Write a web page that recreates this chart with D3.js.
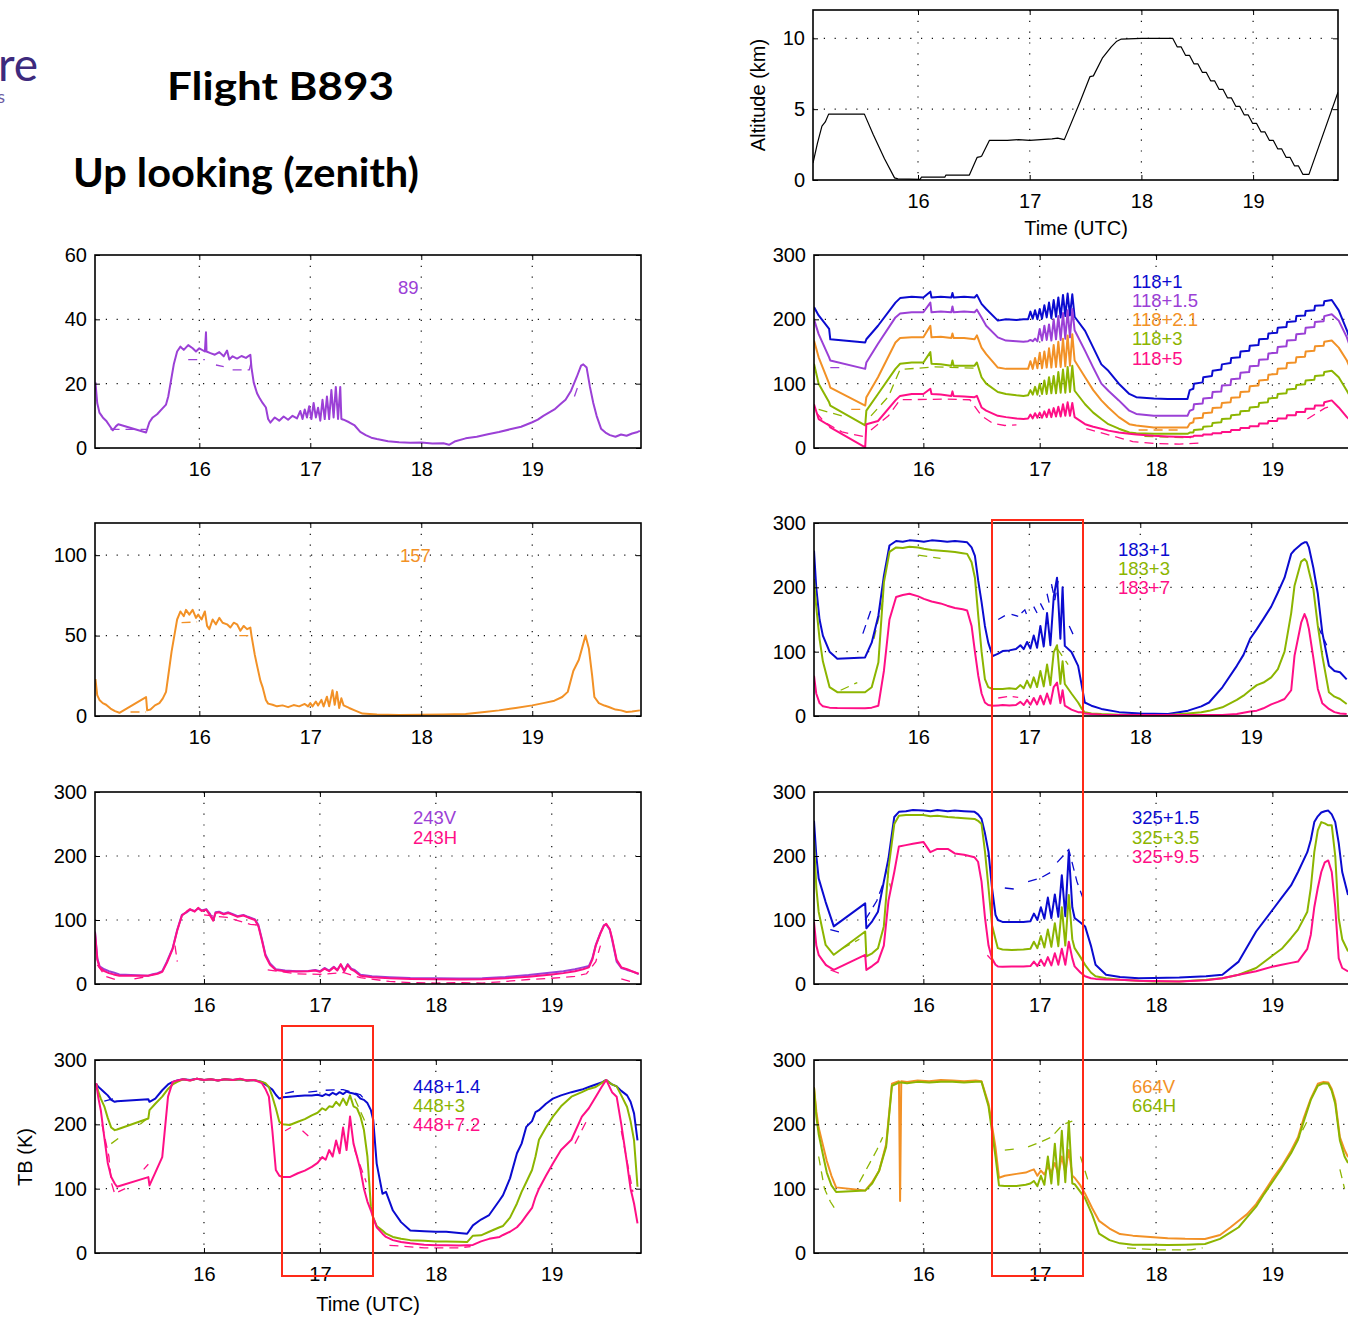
<!DOCTYPE html>
<html><head><meta charset="utf-8">
<script src="https://cdn.jsdelivr.net/npm/d3@7"></script>
<style>body{margin:0;background:#fff}svg{display:block}</style>
</head><body>
<svg id="chart" width="1348" height="1319"></svg>
<script>
// ---------------- DATA ----------------
const xTickVals = [16, 17, 18, 19];

// Altitude (km)
const altT = [15.06,15.1,15.14,15.17,15.2,15.35,15.52,15.6,15.7,15.79,15.82,16.02,16.03,16.24,16.25,16.46,16.53,16.56,16.57,16.64,16.8,16.9,17.0,17.1,17.2,17.25,17.31,17.45,17.54,17.57,17.65,17.73,17.78,17.82,18.0,18.28,
  18.32,18.355,18.395,18.43,18.47,18.505,18.545,18.58,18.62,18.655,18.695,18.73,18.77,18.805,18.845,18.88,18.92,18.955,18.995,19.03,19.07,19.105,19.145,19.18,19.22,19.255,19.295,19.33,19.37,19.405,19.445,19.5,19.76];
const altV = [1.2,2.6,3.8,4.1,4.65,4.65,4.65,3.2,1.5,0.15,0.08,0.05,0.2,0.2,0.35,0.35,1.6,1.65,1.7,2.8,2.8,2.85,2.8,2.85,2.9,2.95,2.85,5.5,7.3,7.35,8.6,9.4,9.8,9.95,10.0,10.0,
  9.4,9.4,8.8,8.8,8.2,8.2,7.6,7.6,7.0,7.0,6.4,6.4,5.8,5.8,5.2,5.2,4.6,4.6,4.0,4.0,3.4,3.4,2.8,2.8,2.2,2.2,1.6,1.6,1.0,1.0,0.4,0.4,6.2];

// 89 GHz
const t89 = [15.064,15.08,15.1,15.13,15.16,15.19,15.22,15.25,15.27,15.52,
 15.55,15.58,15.62,15.66,15.7,15.72,15.75,15.77,15.8,15.83,
 15.86,15.9,15.94,15.97,16.0,16.05,16.06,16.065,16.1,16.14,
 16.18,16.22,16.25,16.27,16.3,16.34,16.38,16.42,16.46,16.47,
 16.49,16.52,16.54,16.57,16.6,16.62,16.64,16.68,16.72,16.76,
 16.8,16.84,16.88,16.91,16.93,16.95,16.97,16.99,17.01,17.03,
 17.05,17.07,17.09,17.11,17.13,17.15,17.17,17.19,17.21,17.23,
 17.25,17.27,17.28,17.3,17.35,17.4,17.45,17.5,17.55,17.6,
 17.7,17.8,17.9,18.0,18.1,18.2,18.25,18.3,18.4,18.5,
 18.6,18.7,18.8,18.9,19.0,19.05,19.1,19.15,19.2,19.25,
 19.3,19.35,19.4,19.44,19.46,19.49,19.52,19.55,19.58,19.62,
 19.66,19.7,19.75,19.8,19.85,19.9,19.95,19.97];
const v89 = [20.4,14,11,9.5,8.5,7,5.5,6.8,7.4,4.8,
 8,9.5,10.5,12,13.5,16,22,26,30,31.5,
 30.5,32,31,30,31,30,36,30,29.5,29,
 29.8,28.5,30.3,27.5,28.5,27.8,28.6,28,29,25,
 20.4,17,15.7,14,12.6,9,7.9,9.5,8.5,9.8,
 8.8,10,9.2,11.5,9,12,9.5,13,9,14,
 9.5,12.5,8.5,15,9,16,9,18,9.5,19,
 9,19,9,8.8,8,7,5,4,3.2,2.8,
 2.1,1.8,1.6,1.7,1.4,1.5,1.0,2.0,3.0,3.5,
 4.3,5.0,5.8,6.6,8.0,8.8,10,11,12,13.5,
 15,17.8,22,25.6,26,25,19,14,10,6,
 4.8,4,3.5,4.2,3.8,4.5,5,5.3];
const d89 = [[15.2,5.8],[15.52,5.8],null,[15.9,27.5],[16.05,27.5],null,[16.15,25.8],[16.22,25.3],null,[16.3,24.3],[16.45,24.3],[16.47,27],null,[19.38,16],[19.42,20]];

// 157 GHz
const t157 = [15.064,15.08,15.1,15.13,15.16,15.2,15.24,15.28,15.52,15.53,
 15.56,15.6,15.64,15.67,15.7,15.72,15.75,15.78,15.8,15.83,
 15.86,15.88,15.91,15.94,15.97,15.99,16.02,16.05,16.07,16.09,
 16.12,16.15,16.18,16.21,16.25,16.28,16.31,16.34,16.37,16.4,
 16.43,16.46,16.47,16.5,16.52,16.55,16.57,16.6,16.62,16.66,
 16.7,16.75,16.8,16.85,16.9,16.95,16.98,17.0,17.02,17.05,
 17.07,17.1,17.12,17.15,17.17,17.2,17.22,17.24,17.26,17.28,
 17.3,17.35,17.4,17.47,17.6,17.8,18.0,18.2,18.4,18.57,
 18.7,18.85,19.0,19.1,19.2,19.27,19.32,19.37,19.42,19.46,
 19.48,19.51,19.54,19.56,19.6,19.65,19.69,19.75,19.8,19.85,
 19.9,19.97];
const v157 = [23,13,10,8,7,4.6,3,2,11.8,3.5,
 4,6.6,8,10.8,15,25,40,52,60,65,
 62,66,63,66,61,63,60,65,56,54,
 60,57,61,58,57,55,58,57,53,56,
 54,55,50,38,31.5,22,18,10,7.7,7,
 6,6.6,5.5,6.8,6,7.5,6,8,6,9,
 6.5,10,6,12,6,16,7,15,5,11,
 6.6,5,3.5,1.5,1.0,0.6,0.8,0.9,1.2,2.5,
 3.5,5,6.6,8,9.5,11.8,15,28,35,45,
 50,42,25,11.8,8,6.5,5.6,4,3.5,2.5,
 2.8,3.5];
const d157 = [[15.38,2.5],[15.52,2.5],null,[15.84,58],[15.98,58.5],null,[16.36,50],[16.46,50]];

// 243 GHz (V, H)
const t243 = [15.06,15.08,15.1,15.14,15.18,15.22,15.27,15.52,15.55,15.6,
 15.64,15.68,15.73,15.77,15.81,15.85,15.88,15.92,15.95,15.98,
 16.02,16.05,16.08,16.1,16.13,16.17,16.21,16.25,16.29,16.34,
 16.38,16.44,16.47,16.5,16.53,16.57,16.62,16.7,16.8,16.9,
 16.96,17.0,17.04,17.08,17.12,17.15,17.18,17.21,17.24,17.27,
 17.3,17.35,17.45,17.6,17.78,18.0,18.2,18.4,18.6,18.8,
 19.0,19.1,19.2,19.27,19.32,19.35,19.38,19.42,19.45,19.47,
 19.5,19.52,19.56,19.6,19.65,19.69,19.75];
const v243V = [82,40,27.5,23,20,18,15,13,15,17,
 20,35,56,85,108,112,116,114,118,115,
 117,110,100,112,113,110,112,109,106,108,
 105,101,92,70,46,32,23,21,20,20.5,
 22,20,25,21,27,22,30,21,31,24,
 22,14.5,12,10.5,9.3,9,8.5,9,11,14,
 18,20,23,26,28,40,61,80,92,93,
 85,70,35,25,22,20,15.5];
const v243H = [80,38,26,20,17,15,13,13,14,16,
 19,33,55,84,107,113,117,113,119,114,
 116,108,99,111,112,109,111,108,105,107,
 104,100,90,68,44,30,22,20,19.5,20,
 21,19,24,20,26,21,31,20,30,23,
 20,13,10.5,9,8,7.5,7,7.5,9,11.5,
 15,17,20,23,26,38,60,79,91,94,
 86,72,38,26,23,20,16];
const d243H = [[15.08,30],[15.15,12],[15.25,6],null,[15.4,8],[15.52,12],null,[15.75,60],[15.77,35],null,[16.0,108],[16.2,104],[16.4,93],[16.47,92],null,[16.55,22],[16.8,16],[17.0,15],[17.2,18],[17.35,10],[17.6,4],[17.8,2],[18.0,1.5],[18.2,2],[18.4,1.5],[18.6,4],[18.8,7],[19.0,9],[19.2,12],[19.3,16],[19.38,35],[19.42,60],null,[19.6,8],[19.68,4]];

// 448 GHz
const t448 = [15.07,15.09,15.11,15.14,15.17,15.2,15.23,15.25,15.52,15.53,
 15.58,15.64,15.69,15.73,15.77,15.82,15.88,15.94,16.0,16.06,
 16.12,16.18,16.25,16.31,16.37,16.43,16.5,16.53,16.56,16.59,
 16.62,16.65,16.68,16.74,16.81,16.87,16.93,16.98,17.02,17.05,
 17.08,17.11,17.14,17.17,17.2,17.23,17.26,17.29,17.32,17.35,
 17.38,17.41,17.44,17.46,17.49,17.54,17.57,17.63,17.7,17.78,
 17.9,18.0,18.09,18.2,18.27,18.32,18.39,18.46,18.55,18.58,
 18.64,18.7,18.74,18.78,18.83,18.86,18.89,18.95,19.01,19.08,
 19.17,19.26,19.32,19.38,19.43,19.47,19.52,19.56,19.6,19.65,
 19.68,19.71,19.74];
const v448a = [263,258,255,250,245,238,235,236,239,235,
 240,253,262,266,268,270,269,271,269,270,
 268,270,269,270,268,269,266,262,258,254,
 246,240,242,243,244,245,245,246,244,247,
 245,249,246,250,247,251,249,248,246,240,
 238,233,222,207,139,92,95,66,48,35,
 34,33,33,31,30,43,52,59,82,90,
 116,155,170,196,205,219,222,232,240,245,
 250,254,258,262,265,269,262,259,252,245,
 235,217,175];
const v448b = [263,250,240,228,210,195,191,192,209,222,
 232,243,255,262,266,270,268,271,269,270,
 268,270,269,270,268,269,266,264,258,243,
 225,204,200,199,204,208,214,218,225,222,
 228,227,235,229,240,230,245,228,225,212,
 191,150,72,55,42,35,30,25,22,20,
 19,18,18,17.5,17,27,27.5,33,40,42,
 55,77,95,110,129,150,176,195,212,228,
 243,250,255,258,264,269,262,259,245,227,
 205,175,103];
const v448c = [264,240,222,180,140,118,108,103,118,105,
 125,149,243,266,268,270,268,271,269,270,
 268,270,269,271,268,269,264,255,243,190,
 129,120,118,118,124,128,134,140,149,145,
 160,150,175,155,195,160,212,170,150,129,
 100,80,66,55,40,30,25,20,17,15,
 13,12,12,11.5,12,12.5,18,22,25,28,
 33,40,48,58,70,87,100,120,139,160,
 176,212,225,243,258,269,250,243,200,139,
 100,77,46];
const d448a = [[15.14,236],[15.25,241],null,[16.7,248],[16.8,252],null,[16.9,250],[17.0,252],null,[17.05,253],[17.2,254],[17.35,246],[17.4,235]];
const d448b = [[15.2,170],[15.26,178],null,[15.45,200],[15.55,215],null,[17.3,240],[17.4,200]];
const d448c = [[15.12,200],[15.18,150],[15.2,110],[15.23,92],null,[15.26,95],[15.32,100],null,[15.48,130],[15.52,138],null,[16.7,190],[16.75,195],null,[16.85,190],[16.9,182],null,[17.3,160],[17.4,110],null,[17.6,12],[17.9,8],[18.2,8],[18.3,10],null,[19.2,170],[19.3,205],null,[19.6,190],[19.7,95]];

// 118 GHz
const t118 = [15.06,15.1,15.19,15.2,15.5,15.51,15.61,15.76,15.8,15.9,
 16.0,16.06,16.07,16.15,16.24,16.25,16.26,16.35,16.44,16.46,
 16.5,16.54,16.64,16.71,16.8,16.86,
 16.9,16.92,16.94,16.96,16.98,17.0,17.02,17.04,17.06,17.08,17.1,17.12,17.14,17.16,17.18,17.2,17.22,17.24,17.26,17.28,17.3,
 17.39,17.46,17.53,17.59,17.68,17.77,17.83,17.98,18.1,18.27,18.29,
 18.32,18.326,18.40,18.406,18.48,18.486,18.56,18.566,18.64,18.646,18.72,18.726,18.80,18.806,18.88,18.886,18.96,18.966,19.04,19.046,19.12,19.126,19.20,19.206,19.28,19.286,19.36,19.366,19.44,19.446,
 19.51,19.57,19.64,19.7];
const v118a = [219,206,185,169,164,169,190,226,233,235,
 234,243,234,235,234,241,234,235,234,238,
 224,216,198,200,199,200,
 200,212,201,214,200,216,201,222,203,226,202,230,204,234,203,238,205,240,206,239,204,
 182,156,130,120,100,84,79,77,76,76,90,
 92,100,102,110,112,120,122,130,132,140,141,150,151,159,160,169,170,178,179,187,188,196,197,205,206,213,214,221,222,228,
 230,214,183,150];
const v118b = [200,177,141,136,123,133,162,203,209,211,
 211,226,211,212,211,220,211,212,211,215,
 203,190,172,167,166,165,
 166,168,166,170,166,185,167,190,168,192,167,200,169,205,168,210,170,214,172,216,183,
 151,125,100,89,74,58,53,50,50,50,58,
 60,68,69,77,78,87,88,97,98,107,108,117,118,127,128,137,138,147,148,157,158,167,168,177,178,187,188,196,197,205,
 208,198,172,140];
const v118c = [167,141,100,94,66,79,110,164,171,172,
 172,190,172,173,171,178,171,171,169,175,
 156,146,125,123,123,123,
 123,135,123,140,124,148,124,150,125,155,125,160,126,165,126,170,127,175,128,177,136,
 110,90,74,63,48,37,35,32,32,32,38,
 40,46,47,54,55,62,63,70,71,78,79,87,88,96,97,105,106,114,115,123,124,132,133,141,142,150,151,158,159,165,
 167,156,136,110];
const v118d = [131,100,71,66,35,58,84,123,131,133,
 133,149,131,130,128,136,128,128,128,133,
 110,100,87,84,82,81,
 82,90,83,95,83,100,84,105,84,110,85,112,85,118,86,122,86,126,87,128,89,
 68,55,45,37,30,24,23,22,22,22,24,
 24,28,29,33,34,39,40,45,46,51,52,57,58,63,64,70,71,77,78,84,85,91,92,98,99,105,106,112,113,118,
 120,110,89,70];
const v118e = [68,45,35,32,1,37,42,74,81,84,
 84,92,84,83,81,88,81,80,79,81,
 63,58,50,48,46,45,
 46,52,46,54,47,55,47,57,48,60,48,62,49,64,49,68,50,71,50,70,48,
 37,33,30,27,24,22,21,19,18,17,17,
 18,19,19,21,21,23,23,25,25,28,28,31,31,34,34,38,38,42,42,46,46,51,51,56,56,61,61,66,66,71,
 74,63,48,38];
const d118b = [[15.2,125],[15.33,125]];
const d118c = [[15.38,60],[15.5,60],null,[17.85,28],[18.2,28]];
const d118d = [[15.1,60],[15.3,50],null,[15.55,50],[15.7,80],[15.8,122],[16.1,126],[16.45,124],null,[17.9,18],[18.3,16]];
const d118e = [[15.08,55],[15.15,40],[15.3,25],[15.48,18],null,[15.55,28],[15.7,50],[15.8,75],[16.2,76],[16.4,75],[16.5,50],[16.6,38],[16.7,35],[16.8,36],null,[17.4,30],[17.6,20],[17.8,10],[18.0,7],[18.2,6],[18.4,8],null,[19.3,45],[19.45,62],[19.5,65]];

// 183 GHz
const t183 = [15.06,15.08,15.11,15.14,15.2,15.27,15.52,15.58,15.64,15.69,
 15.74,15.8,15.86,15.92,16.0,16.05,16.12,16.2,16.26,16.33,
 16.4,16.44,16.48,16.51,16.54,16.57,16.6,16.63,16.67,16.72,
 16.76,16.82,16.88,16.92,16.95,16.98,17.01,17.04,17.07,17.1,
 17.13,17.16,17.19,17.22,17.25,17.28,17.3,17.32,17.38,17.44,
 17.47,17.5,17.56,17.65,17.81,18.0,18.25,18.43,18.55,18.62,
 18.74,18.87,18.93,18.99,19.05,19.11,19.18,19.24,19.3,19.36,
 19.39,19.45,19.48,19.5,19.52,19.56,19.6,19.64,19.7,19.75,
 19.8,19.86];
const v183a = [257,200,150,125,100,89,91,114,156,218,
 265,272,271,273,272,271,273,272,271,272,
 271,270,262,249,210,177,140,114,93,97,
 101,102,104,110,104,115,105,125,106,140,
 108,160,110,185,215,120,200,109,99.5,78,
 50,21,16,11,6,4,3,8.3,15,21,
 44.6,78,95,120,135,151,170,192,215,252,
 258,267,270,270,262,230,190,130,78,70,
 68,57];
const v183b = [213,170,120,85,45,37,37,44.6,83,207.8,
 255,262,261,263,262,260,258,257,256,255,
 253,252,239,215,156,100,57.5,45,42,42,
 42,43,42,48,43,55,44,60,45,70,
 46,80,48,99,110,50,85,49.7,35,21,
 12,5.7,4,3,2,1.5,1.5,4,5.7,8,
 13.5,25,31.6,40,48,52,60,73,100,160,
 202.6,240,244,240,225,197,140,93.8,36.8,30,
 26.4,18.6];
const v183c = [62.7,35,20,15,13,12.5,11.9,13,16,70,
 150,185,188,190,186,182,178,175,171.5,168,
 166,164,140,100,62.7,35,21,17,16,16.5,
 17,16.5,17,22,17,25,17.5,28,18,31.6,
 18,35,19,45,52,20,40,16,10,6,
 5.7,4,3,2,1.5,1.5,1.5,1.5,1.5,1.5,
 1.5,3,5,7,8.3,12,18,22,26.4,40,
 93.8,145,158.5,150,135,90,42,20,11,6,
 4,3];
const d183a = [[15.5,128],[15.58,168],null,[16.72,150],[16.78,156],null,[16.84,158],[16.9,155],null,[16.93,160],[16.96,165],[16.98,156],null,[17.04,170],[17.07,160],null,[17.1,175],[17.13,165],null,[17.16,190],[17.18,175],null,[17.2,205],[17.23,180],[17.26,210],null,[17.36,140],[17.4,125],null,[19.6,140],[19.68,110]];
const d183b = [[15.3,40],[15.45,52],null,[15.6,120],[15.68,180],null,[16.0,250],[16.2,245],null,[17.25,105],[17.35,80]];
const d183c = [[16.72,28],[16.8,30],null,[16.85,30],[16.9,29]];

// 325 GHz
const t325 = [15.06,15.08,15.1,15.16,15.23,15.5,15.51,15.56,15.61,15.66,
 15.7,15.75,15.79,15.85,15.91,16.0,16.06,16.12,16.21,16.27,
 16.35,16.44,16.47,16.5,16.53,16.56,16.59,16.62,16.64,16.68,
 16.76,16.86,16.92,16.95,16.98,17.01,17.04,17.07,17.1,17.13,
 17.16,17.19,17.22,17.25,17.28,17.3,17.35,17.39,17.44,17.48,
 17.57,17.69,17.85,17.98,18.2,18.43,18.57,18.71,18.86,19.01,
 19.08,19.16,19.22,19.3,19.33,19.36,19.39,19.42,19.45,19.48,
 19.51,19.54,19.57,19.6,19.65];
const v325a = [255,200,165,128,90,126,87,98,113,160,
 196,261,269,270,272,271,270,272,270,271,
 270,269,265,258,235,206,150,108,100,97,
 97,97,98,110,100,120,102,135,103,140,
 105,170,106,206,120,103,96,90,60,30,
 14.5,11,9,9.3,10,12,14.5,35,82,118,
 135,154,175,206,225,253,262,268,270,271,
 265,253,220,175,139];
const v325b = [224,150,113,61,45.6,82,43,48,56,90,
 180,250,263,264,264,264,262,263,261,260,
 259,258,255,250,206,150,92,70,56,54,
 53,54,55,66,56,75,57,85,58,95,
 59,120,60,139,70,56,42,30,18,12,
 9,6.7,5,4,4,6.7,9,14.5,25,45.6,
 55,71.5,85,113,150,206,240,253,251,248,
 248,200,103,70,51];
const v325c = [97,60,45.6,30,22,45.6,22,28,35,60,
 130,175,215,217,219,222,206,211,211,204,
 202,198,191,160,103,60,40,30,27.5,27,
 27.5,27.5,28,35,28,38,28.5,42,29,48,
 30,55,30,66,40,27.5,18,12,9,8,
 7,6.7,5,4.5,4,6,9,14.5,20,27.5,
 30,33,35,55,77,120,150,175,190,193,
 175,120,40,25,19.7];
const d325a = [[15.2,85],[15.3,80],null,[15.5,100],[15.6,130],[15.66,160],null,[16.7,150],[16.8,148],null,[16.9,160],[17.0,165],[17.1,175],null,[17.15,190],[17.2,200],[17.25,210],[17.32,160],[17.38,130]];
const d325b = [[15.3,55],[15.45,70],null,[15.68,180],[15.72,150]];
const d325c = [[15.12,40],[15.2,22],[15.3,15],null,[16.55,45],[16.6,35]];

// 664 GHz (V, H)
const t664 = [15.06,15.08,15.1,15.14,15.17,15.21,15.25,15.5,15.56,15.62,
 15.68,15.73,15.79,15.8,15.81,15.86,15.95,16.05,16.15,16.25,
 16.35,16.45,16.5,16.56,16.62,16.65,16.7,16.8,16.88,16.92,
 16.95,16.98,17.01,17.04,17.07,17.1,17.13,17.16,17.19,17.22,
 17.25,17.28,17.3,17.35,17.39,17.45,17.51,17.6,17.69,17.8,
 17.98,18.1,18.25,18.42,18.55,18.64,18.71,18.78,18.86,18.93,
 19.01,19.08,19.16,19.22,19.27,19.33,19.39,19.44,19.48,19.51,
 19.54,19.58,19.62,19.65];
const v664V = [258,220,195,165,143,120,102,97,110,128,
 169,263,267,81,267,266,268,267,269,268,
 267,268,267,232,164,117,120,123,125,128,
 130,120,128,122,135,125,140,122,150,125,
 160,120,117,105,92,70,50,38,29.5,27,
 24.4,23,22,21.8,28,40,50,60,76,95,
 117.6,135,159,180,210,240,263,266,265,255,
 237,180,160,149];
const v664H = [257,212,185,150,125,105,95,97,108,128,
 165,260,265,265,265,264,266,265,266,266,
 265,266,266,228,150,105,104,104,106,108,
 112,104,120,106,150,108,170,106,190,110,
 205,108,107,95,85,60,30,20,15,13,
 13,12.5,13,14,22,32,40,55,72,92,
 113,132,155,176,205,238,260,264,263,252,
 232,175,150,140];
const d664H = [[15.1,150],[15.15,100],[15.2,80],[15.25,66],null,[15.45,110],[15.6,160],[15.65,180],null,[16.7,160],[16.8,162],null,[16.9,165],[17.0,172],[17.1,180],[17.2,200],[17.28,205],null,[17.35,150],[17.42,110],null,[17.75,8],[18.0,5],[18.3,5],[18.4,8],null,[19.2,170],[19.3,205],null,[19.58,130],[19.62,100]];

// ---------------- STYLE / LAYOUT ----------------
const COL = {blue:'#0b0bd0', purple:'#9b40d6', orange:'#f29126', green:'#8cb500', pink:'#ff0f86', black:'#000'};
const FONT = '"Liberation Sans", Arial, Helvetica, sans-serif';
const svg = d3.select('#chart');

const panels = [
 {left:813,right:1338,top:10,bottom:180,xDomain:[15.06,19.76],yDomain:[0,12],yTicks:[0,5,10],
  series:[{t:altT,v:altV,c:'black',w:1.2}],dashed:[],legend:[]},
 {left:95,right:641,top:255,bottom:448,xDomain:[15.06,19.98],yDomain:[0,60],yTicks:[0,20,40,60],
  series:[{t:t89,v:v89,c:'purple'}],dashed:[{d:d89,c:'purple'}],
  legend:{x:398,y:[287],items:[['89','purple']]}},
 {left:95,right:641,top:523,bottom:716,xDomain:[15.06,19.98],yDomain:[0,120],yTicks:[0,50,100],
  series:[{t:t157,v:v157,c:'orange'}],dashed:[{d:d157,c:'orange'}],
  legend:{x:400,y:[555],items:[['157','orange']]}},
 {left:95,right:641,top:792,bottom:984,xDomain:[15.06,19.77],yDomain:[0,300],yTicks:[0,100,200,300],
  series:[{t:t243,v:v243V,c:'purple'},{t:t243,v:v243H,c:'pink'}],dashed:[{d:d243H,c:'pink'}],
  legend:{x:413,y:[817,837],items:[['243V','purple'],['243H','pink']]}},
 {left:95,right:641,top:1060,bottom:1253,xDomain:[15.06,19.77],yDomain:[0,300],yTicks:[0,100,200,300],
  series:[{t:t448,v:v448a,c:'blue'},{t:t448,v:v448b,c:'green'},{t:t448,v:v448c,c:'pink'}],
  dashed:[{d:d448a,c:'blue'},{d:d448b,c:'green'},{d:d448c,c:'pink'}],
  legend:{x:413,y:[1086,1105,1124],items:[['448+1.4','blue'],['448+3','green'],['448+7.2','pink']]}},
 {left:814,right:1362,top:255,bottom:448,xDomain:[15.06,19.77],yDomain:[0,300],yTicks:[0,100,200,300],
  series:[{t:t118,v:v118a,c:'blue'},{t:t118,v:v118b,c:'purple'},{t:t118,v:v118c,c:'orange'},{t:t118,v:v118d,c:'green'},{t:t118,v:v118e,c:'pink'}],
  dashed:[{d:d118b,c:'purple'},{d:d118c,c:'orange'},{d:d118d,c:'green'},{d:d118e,c:'pink'}],
  legend:{x:1132,y:[281,300,319,338,358],items:[['118+1','blue'],['118+1.5','purple'],['118+2.1','orange'],['118+3','green'],['118+5','pink']]}},
 {left:814,right:1360,top:523,bottom:716,xDomain:[15.06,19.98],yDomain:[0,300],yTicks:[0,100,200,300],
  series:[{t:t183,v:v183a,c:'blue'},{t:t183,v:v183b,c:'green'},{t:t183,v:v183c,c:'pink'}],
  dashed:[{d:d183a,c:'blue'},{d:d183b,c:'green'},{d:d183c,c:'pink'}],
  legend:{x:1118,y:[549,568,587],items:[['183+1','blue'],['183+3','green'],['183+7','pink']]}},
 {left:814,right:1362,top:792,bottom:984,xDomain:[15.06,19.77],yDomain:[0,300],yTicks:[0,100,200,300],
  series:[{t:t325,v:v325a,c:'blue'},{t:t325,v:v325b,c:'green'},{t:t325,v:v325c,c:'pink'}],
  dashed:[{d:d325a,c:'blue'},{d:d325b,c:'green'},{d:d325c,c:'pink'}],
  legend:{x:1132,y:[817,837,856],items:[['325+1.5','blue'],['325+3.5','green'],['325+9.5','pink']]}},
 {left:814,right:1362,top:1060,bottom:1253,xDomain:[15.06,19.77],yDomain:[0,300],yTicks:[0,100,200,300],
  series:[{t:t664,v:v664V,c:'orange'},{t:t664,v:v664H,c:'green'}],
  dashed:[{d:d664H,c:'green'}],
  legend:{x:1132,y:[1086,1105],items:[['664V','orange'],['664H','green']]}}
];

function styleAxis(g){
  g.select('.domain').remove();
  g.selectAll('.tick line').attr('stroke','#000').attr('stroke-width',1);
  g.selectAll('.tick text').attr('fill','#000').style('font-family',FONT).style('font-size','20px');
}

panels.forEach((p,i)=>{
  const x = d3.scaleLinear().domain(p.xDomain).range([p.left,p.right]);
  const y = d3.scaleLinear().domain(p.yDomain).range([p.bottom,p.top]);
  const g = svg.append('g');
  const cid = 'clip'+i;
  g.append('clipPath').attr('id',cid).append('rect')
    .attr('x',p.left).attr('y',p.top).attr('width',p.right-p.left).attr('height',p.bottom-p.top);
  const grid = g.append('g').attr('stroke','#111').attr('stroke-width',1.2).attr('stroke-dasharray','1.2,9.6');
  xTickVals.forEach(v=>grid.append('line').attr('x1',x(v)).attr('x2',x(v)).attr('y1',p.top).attr('y2',p.bottom));
  p.yTicks.filter(v=>v>p.yDomain[0]&&v<p.yDomain[1]).forEach(v=>grid.append('line')
     .attr('x1',p.left).attr('x2',p.right).attr('y1',y(v)).attr('y2',y(v)));
  const plot = g.append('g').attr('clip-path',`url(#${cid})`);
  const line = d3.line().defined(d=>d!=null).x(d=>x(d[0])).y(d=>y(d[1]));
  p.dashed.forEach(s=>plot.append('path').datum(s.d).attr('d',line).attr('fill','none')
     .attr('stroke',COL[s.c]).attr('stroke-width',1.3).attr('stroke-dasharray','9,6'));
  p.series.forEach(s=>plot.append('path').datum(d3.zip(s.t,s.v)).attr('d',line).attr('fill','none')
     .attr('stroke',COL[s.c]).attr('stroke-width',s.w||2).attr('stroke-linejoin','round'));
  g.append('g').attr('transform',`translate(0,${p.bottom})`)
    .call(d3.axisBottom(x).tickValues(xTickVals).tickSize(-5).tickPadding(14).tickFormat(d3.format('d'))).call(styleAxis);
  g.append('g').attr('transform',`translate(0,${p.top})`)
    .call(d3.axisTop(x).tickValues(xTickVals).tickSize(-5).tickFormat('')).call(styleAxis);
  g.append('g').attr('transform',`translate(${p.left},0)`)
    .call(d3.axisLeft(y).tickValues(p.yTicks).tickSize(-5).tickPadding(8).tickFormat(d3.format('d'))).call(styleAxis);
  g.append('g').attr('transform',`translate(${p.right},0)`)
    .call(d3.axisRight(y).tickValues(p.yTicks).tickSize(-5).tickFormat('')).call(styleAxis);
  g.append('rect').attr('x',p.left).attr('y',p.top).attr('width',p.right-p.left).attr('height',p.bottom-p.top)
    .attr('fill','none').attr('stroke','#000').attr('stroke-width',1.6);
  if (p.legend && p.legend.items) p.legend.items.forEach((it,k)=>{
    g.append('text').attr('x',p.legend.x).attr('y',p.legend.y[k]).attr('dominant-baseline','central')
      .style('font-family',FONT).style('font-size','18.5px').attr('fill',COL[it[1]]).text(it[0]);
  });
});

const lab = (t,x,y,rot)=>svg.append('text').attr('transform',`translate(${x},${y})`+(rot?' rotate(-90)':''))
  .attr('text-anchor','middle').attr('dominant-baseline','central').style('font-family',FONT).style('font-size','20px').attr('fill','#000').text(t);
lab('Time (UTC)',1076,228,false);
lab('Altitude (km)',758,95,true);
lab('Time (UTC)',368,1304,false);
lab('TB (K)',25,1157,true);

svg.append('text').attr('x',167).attr('y',100).attr('textLength',227).attr('lengthAdjust','spacingAndGlyphs')
  .style('font-family','Lato, "Open Sans", sans-serif').style('font-weight',700).style('font-size','39px').text('Flight B893');
svg.append('text').attr('x',73).attr('y',187).attr('textLength',346).attr('lengthAdjust','spacingAndGlyphs')
  .style('font-family','Lato, "Open Sans", sans-serif').style('font-weight',700).style('font-size','40px').text('Up looking (zenith)');
svg.append('text').attr('x',38).attr('y',81).attr('text-anchor','end')
  .style('font-family','Lato, "Open Sans", sans-serif').style('font-size','46px').attr('fill','#3d2a7d').text('re');
svg.append('text').attr('x',5).attr('y',103).attr('text-anchor','end')
  .style('font-family','Lato, "Open Sans", sans-serif').style('font-size','18px').attr('fill','#6c5ca3').text('s');

const redBoxes = [[992,520,1083,1276],[282,1026,373,1276]];
redBoxes.forEach(b=>svg.append('rect').attr('x',b[0]).attr('y',b[1]).attr('width',b[2]-b[0]).attr('height',b[3]-b[1])
  .attr('fill','none').attr('stroke','#ff2a18').attr('stroke-width',2));
</script>
</body></html>
